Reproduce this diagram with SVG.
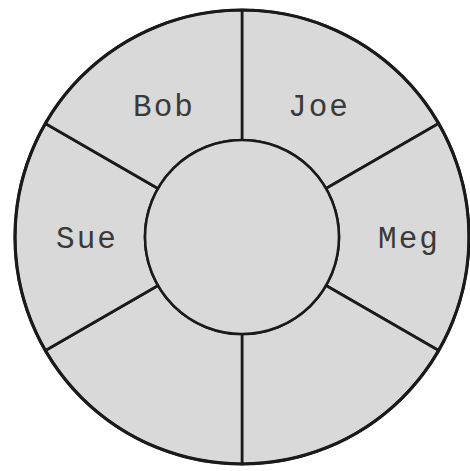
<svg xmlns="http://www.w3.org/2000/svg" width="470" height="471" viewBox="0 0 470 471">
<style>
.sec{fill:#d9d9d9;stroke:#1a1a1a;stroke-width:2.6;stroke-linejoin:round}
.lbl{font-family:"Liberation Mono","DejaVu Sans Mono",monospace;font-size:31px;letter-spacing:2px;fill:#3a3a3a;text-anchor:middle}
.rim{fill:none;stroke:#1a1a1a;stroke-width:3.2}
</style>
<rect width="470" height="471" fill="#ffffff"/>
<g id="sector-joe">
<path class="sec" d="M242,10 A227,227 0 0 1 438.6,123.5 L326,188.5 A97,97 0 0 0 242,140 Z"/>
<text class="lbl" x="319" y="116">Joe</text>
</g>
<g id="sector-meg">
<path class="sec" d="M438.6,123.5 A227,227 0 0 1 438.6,350.5 L326,285.5 A97,97 0 0 0 326,188.5 Z"/>
<text class="lbl" x="409" y="248">Meg</text>
</g>
<g id="sector-bottom-right">
<path class="sec" d="M438.6,350.5 A227,227 0 0 1 242,464 L242,334 A97,97 0 0 0 326,285.5 Z"/>
</g>
<g id="sector-bottom-left">
<path class="sec" d="M242,464 A227,227 0 0 1 45.4,350.5 L158,285.5 A97,97 0 0 0 242,334 Z"/>
</g>
<g id="sector-sue">
<path class="sec" d="M45.4,350.5 A227,227 0 0 1 45.4,123.5 L158,188.5 A97,97 0 0 0 158,285.5 Z"/>
<text class="lbl" x="87" y="248">Sue</text>
</g>
<g id="sector-bob">
<path class="sec" d="M45.4,123.5 A227,227 0 0 1 242,10 L242,140 A97,97 0 0 0 158,188.5 Z"/>
<text class="lbl" x="164" y="116">Bob</text>
</g>
<g id="hub">
<circle class="sec" cx="242" cy="237" r="97"/>
</g>
<g id="outline">
<circle class="rim" cx="242" cy="237" r="227"/>
</g>
</svg>
